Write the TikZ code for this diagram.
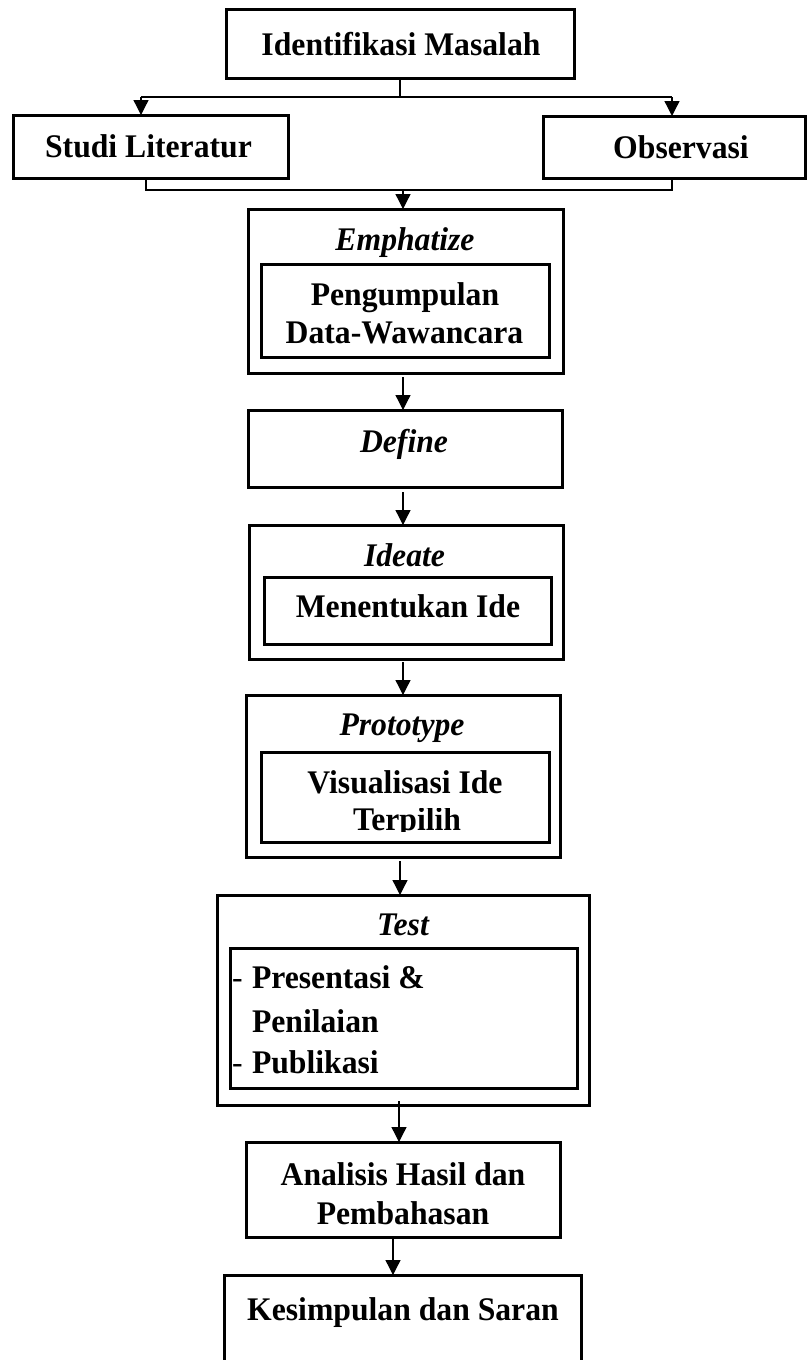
\documentclass[tikz,border=0pt]{standalone}
\usepackage{fontspec}
\setmainfont{Liberation Serif}[FakeStretch=0.96]
\usetikzlibrary{arrows.meta,calc}
\newcommand{\fnt}{\fontsize{33}{38}\selectfont}
\tikzset{
  box/.style={draw, line width=3pt, inner sep=0pt, outer sep=0pt},
  txt/.style={inner sep=0pt, outer sep=0pt, anchor=base, font=\fnt\bfseries},
  ttl/.style={inner sep=0pt, outer sep=0pt, anchor=base, font=\fnt\bfseries\itshape},
  lft/.style={inner sep=0pt, outer sep=0pt, anchor=base west, font=\fnt\bfseries},
  dsh/.style={inner sep=0pt, outer sep=0pt, anchor=base west, font=\fnt},
  conn/.style={line width=1.3pt},
  arr/.style={line width=1.3pt, -{Triangle[length=15pt,width=15pt]}}
}
\begin{document}
\begin{tikzpicture}[x=1pt,y=-1pt]
\clip (0,0) rectangle (807,1360);
\fill[white] (0,0) rectangle (807,1360);

% boxes
\node[box, minimum width=348pt, minimum height=69pt] (idm) at (400,43.5) {};
\node[box, minimum width=275pt, minimum height=63pt] (stu) at (150.5,146.5) {};
\node[box, minimum width=262pt, minimum height=62pt] (obs) at (674,147) {};
\node[box, minimum width=315pt, minimum height=164pt] (emp) at (405.5,291) {};
\node[box, minimum width=288pt, minimum height=93pt] (empi) at (405,310.5) {};
\node[box, minimum width=314pt, minimum height=77pt] (def) at (405,448.5) {};
\node[box, minimum width=314pt, minimum height=134pt] (ide) at (406,592) {};
\node[box, minimum width=287pt, minimum height=67pt] (idei) at (407.5,610.5) {};
\node[box, minimum width=314pt, minimum height=162pt] (pro) at (403,776) {};
\node[box, minimum width=288pt, minimum height=90pt] (proi) at (405,797) {};
\node[box, minimum width=372pt, minimum height=210pt] (tst) at (403,1000) {};
\node[box, minimum width=347pt, minimum height=140pt] (tsti) at (403.5,1018) {};
\node[box, minimum width=314pt, minimum height=95pt] (ana) at (403,1189.5) {};
\node[box, minimum width=357pt, minimum height=145pt] (kes) at (402.5,1347.5) {};

% texts
\node[txt] (t1) at (401,55) {Identifikasi Masalah};
\node[txt] (t2) at (148.5,157) {Studi Literatur};
\node[txt] (t3) at (681,158) {Observasi};
\node[ttl] (t4) at (405,250) {Emphatize};
\node[txt] (t5) at (405,305) {Pengumpulan};
\node[txt] (t6) at (404.5,343) {Data-Wawancara};
\node[ttl] (t7) at (404,452) {Define};
\node[ttl] (t8) at (404.5,566) {Ideate};
\node[txt] (t9) at (408,617) {Menentukan Ide};
\node[ttl] (t10) at (402,735) {Prototype};
\node[txt] (t11) at (405,793) {Visualisasi Ide};
\begin{scope}
\clip (262,808) rectangle (548,831);
\node[txt] (t12) at (407,830) {Terpilih};
\end{scope}
\node[ttl] (t13) at (403,935) {Test};
\node[dsh] (d1) at (232,988) {-};
\node[lft] (t14) at (252,988) {Presentasi \&};
\node[lft] (t15) at (252,1032) {Penilaian};
\node[dsh] (d2) at (232,1073) {-};
\node[lft] (t16) at (252,1073) {Publikasi};
\node[txt] (t17) at (403,1185) {Analisis Hasil dan};
\node[txt] (t18) at (403,1224) {Pembahasan};
\node[txt] (t19) at (403,1320) {Kesimpulan dan Saran};

% top connectors
\coordinate (jl) at (141,97);
\coordinate (jr) at (672,97);
\draw[conn] (idm.south) -- (idm.south |- jl);
\draw[conn] (jl) -- (jr);
\draw[arr] (jl) -- (jl |- stu.north);
\draw[arr] (jr) -- (jr |- obs.north);

% merge connectors
\coordinate (bl) at (146,190);
\coordinate (br) at (672,190);
\coordinate (bm) at (403,190);
\draw[conn] ($(stu.south -| bl)+(0,2)$) -- (bl) -- (br) -- (obs.south -| br);
\draw[arr] (bm) -- (bm |- emp.north);

% vertical flow
\coordinate (a1) at ($(emp.south)+(-2.5,4)$);
\draw[arr] (a1) -- (a1 |- def.north);
\coordinate (a2) at ($(def.south)+(-2,5)$);
\draw[arr] (a2) -- (a2 |- ide.north);
\coordinate (a3) at ($(ide.south)+(-3,3)$);
\draw[arr] (a3) -- (a3 |- pro.north);
\coordinate (a4) at ($(pro.south)+(-3,4)$);
\draw[arr] (a4) -- (a4 |- tst.north);
\coordinate (a5) at ($(tst.south)+(-4,-4)$);
\draw[arr] (a5) -- (a5 |- ana.north);
\coordinate (a6) at ($(ana.south)+(-10,0)$);
\draw[arr] (a6) -- (a6 |- kes.north);
\end{tikzpicture}
\end{document}
